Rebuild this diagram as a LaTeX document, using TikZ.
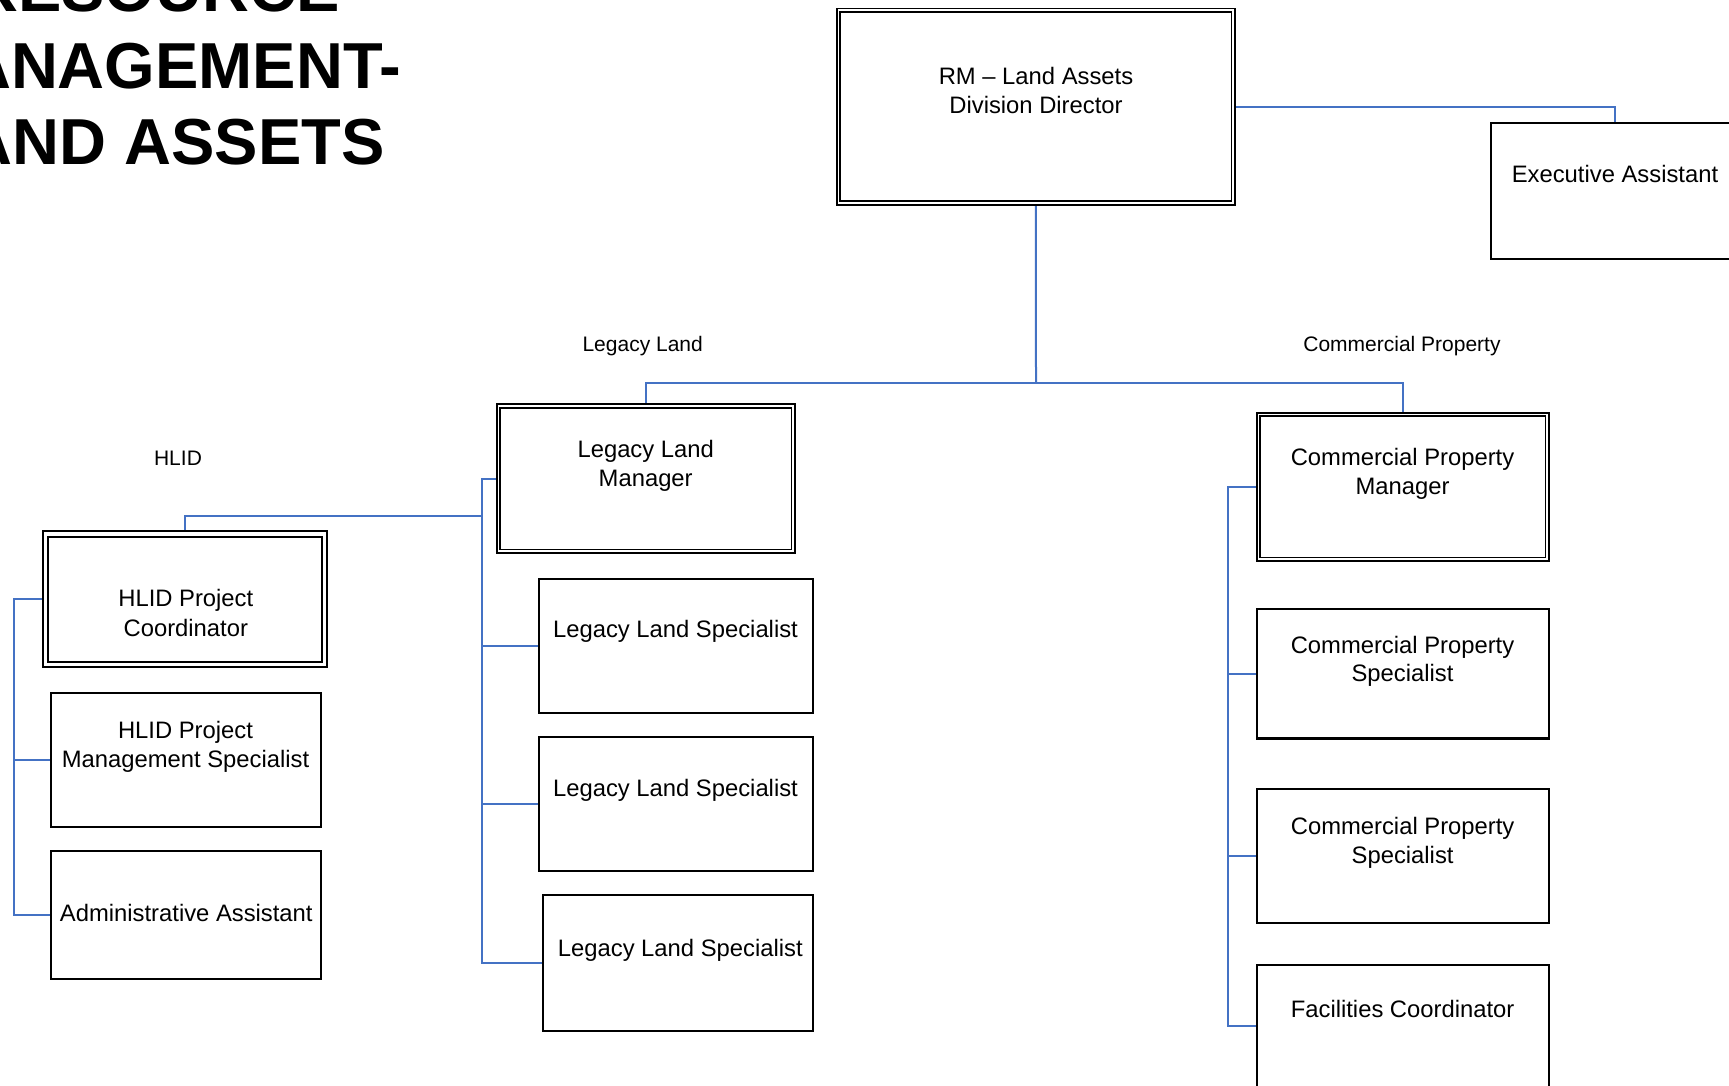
\documentclass[tikz,border=0pt]{standalone}
\usepackage{fontspec}
\setmainfont{Liberation Sans}
\usetikzlibrary{backgrounds}
\definecolor{linkblue}{HTML}{4472C4}
\begin{document}
\begin{tikzpicture}[x=1pt,y=-1pt,
  box/.style={draw=black, line width=2.2pt, fill=white, inner sep=0pt, rectangle},
  dbox/.style={draw=black, fill=white, double=white, double distance=1.8pt, line width=1.8pt, inner sep=0pt, rectangle},
  txt/.style={inner sep=0pt, anchor=base, font=\fontsize{23.8}{28}\selectfont},
  lbl/.style={inner sep=0pt, anchor=base, font=\fontsize{21}{25}\selectfont},
  ttl/.style={inner sep=0pt, anchor=base, font=\fontsize{65}{77}\selectfont\bfseries},
  link/.style={draw=linkblue, line width=2pt}]
\useasboundingbox (0,0) rectangle (1729,1086);
\clip (0,0) rectangle (1729,1086);

% title
\node[ttl] (t1) at (155.5,11.3) {RESOURCE};
\node[ttl] (t2) at (155.5,88.3) {MANAGEMENT-};
\node[ttl] (t3) at (155.5,165) {LAND ASSETS};

% boxes
\node[dbox, minimum width=394.9pt, minimum height=192.6pt] (dir) at (1035.85,106.7) {};
\node[box, minimum width=247.8pt, minimum height=135.8pt] (exec) at (1615,191) {};
\node[dbox, minimum width=294.9pt, minimum height=145.3pt] (llm) at (645.85,478.65) {};
\node[dbox, double distance=3.5pt, line width=2pt, minimum width=279.1pt, minimum height=130.8pt] (hpc) at (185,599.15) {};
\node[dbox, minimum width=288.9pt, minimum height=144.9pt] (cpm) at (1402.85,486.85) {};
\node[box, minimum width=270.4pt, minimum height=133.8pt] (hpm) at (186,759.7) {};
\node[box, minimum width=270.4pt, minimum height=127.8pt] (admin) at (186,915) {};
\node[box, minimum width=274.1pt, minimum height=134.1pt] (ls1) at (675.85,645.85) {};
\node[box, minimum width=274.1pt, minimum height=134.1pt] (ls2) at (675.85,803.85) {};
\node[box, minimum width=270.1pt, minimum height=136.1pt] (ls3) at (677.85,962.85) {};
\node[box, minimum width=292.1pt, minimum height=129.7pt] (cps1) at (1402.85,673.65) {};
\node[box, minimum width=292.1pt, minimum height=133.8pt] (cps2) at (1402.85,856) {};
\node[box, minimum width=292.1pt, minimum height=122.4pt] (fac) at (1402.85,1026) {};

% texts
\node[txt] (dirA) at (1036,85) {RM – Land Assets};
\node[txt] (dirB) at (1036,113.3) {Division Director};
\node[txt] (execA) at (1615,182.7) {Executive Assistant};
\node[lbl] (lblL) at (642.7,351) {Legacy Land};
\node[lbl] (lblC) at (1402,351.7) {Commercial Property};
\node[lbl] (lblH) at (178,465) {HLID};
\node[txt] (llmA) at (645.7,457.7) {Legacy Land};
\node[txt] (llmB) at (645.7,486.7) {Manager};
\node[txt] (hpcA) at (185.8,606.7) {HLID Project};
\node[txt] (hpcB) at (185.8,636) {Coordinator};
\node[txt] (hpmA) at (185.5,738.3) {HLID Project};
\node[txt] (hpmB) at (185.5,767.3) {Management Specialist};
\node[txt] (adminA) at (186.3,921.7) {Administrative Assistant};
\node[txt] (ls1A) at (675.5,637.7) {Legacy Land Specialist};
\node[txt] (ls2A) at (675.5,796.7) {Legacy Land Specialist};
\node[txt] (ls3A) at (680.3,956) {Legacy Land Specialist};
\node[txt] (cpmA) at (1402.5,465.7) {Commercial Property};
\node[txt] (cpmB) at (1402.5,494) {Manager};
\node[txt] (cps1A) at (1402.5,653.3) {Commercial Property};
\node[txt] (cps1B) at (1402.5,681.7) {Specialist};
\node[txt] (cps2A) at (1402.6,834.3) {Commercial Property};
\node[txt] (cps2B) at (1402.6,863.3) {Specialist};
\node[txt] (facA) at (1402.6,1017.7) {Facilities Coordinator};

% connectors
\coordinate (bus) at (1036,383.3);
\coordinate (lt) at (482,516);
\coordinate (ht) at (14,600);
\coordinate (ct) at (1227.7,486);
\begin{pgfonlayer}{background}
\draw[link] (dir.south) -- (bus);
\draw[link] (llm.north) |- (bus) -| (cpm.north);
\draw[link] (dir.east) -| (exec.north);
\draw[link] (llm.west) -| (lt |- ls3.west) -- (ls3.west);
\draw[link] (lt |- ls1.west) -- (ls1.west);
\draw[link] (lt |- ls2.west) -- (ls2.west);
\draw[link] (lt) -| (hpc.north);
\draw[link] (hpc.west) -| (ht |- admin.west) -- (admin.west);
\draw[link] (ht |- hpm.west) -- (hpm.west);
\draw[link] (cpm.west) -| (ct |- fac.west) -- (fac.west);
\draw[link] (ct |- cps1.west) -- (cps1.west);
\draw[link] (ct |- cps2.west) -- (cps2.west);
\end{pgfonlayer}
\end{tikzpicture}
\end{document}
